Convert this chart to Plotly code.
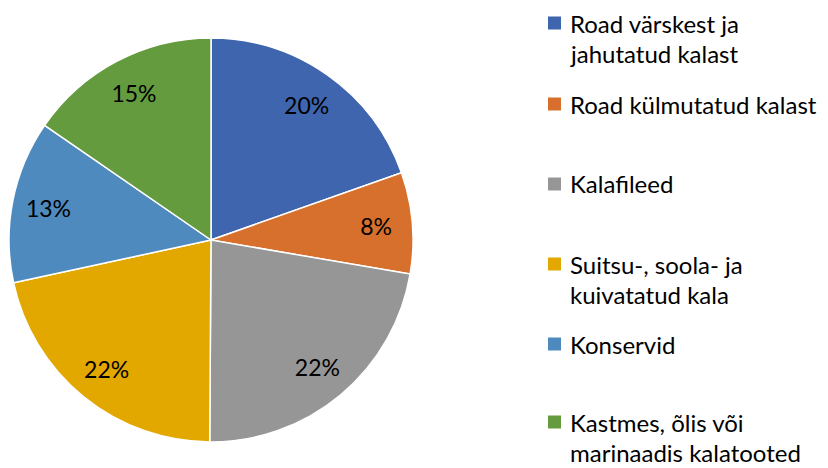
import plotly.graph_objects as go

categories = [
    "Road värskest ja\njahutatud kalast",
    "Road külmutatud kalast",
    "Kalafileed",
    "Suitsu-, soola- ja\nkuivatatud kala",
    "Konservid",
    "Kastmes, õlis või\nmarinaadis kalatooted",
]
values = [19.6, 8.1, 22.4, 21.5, 13.0, 15.4]
colors = ["#3E65AD", "#D6702C", "#969696", "#E3A800", "#4F8ABF", "#649B3E"]

W, H = 828, 468
FONT = "Lato"

domain = dict(x=[9/W, 413/W], y=[26/H, 430/H])

fig = go.Figure()
# filled slices
fig.add_trace(go.Pie(
    labels=[c.replace("\n", " ") for c in categories],
    values=values,
    sort=False,
    direction="clockwise",
    rotation=0,
    marker=dict(colors=colors, line=dict(color="white", width=1.5)),
    textinfo="none",
    domain=domain,
    hoverinfo="label+percent",
    showlegend=False,
))
# transparent ring carrying the percentage labels further out
fig.add_trace(go.Pie(
    labels=[c.replace("\n", " ") for c in categories],
    values=values,
    sort=False,
    direction="clockwise",
    rotation=0,
    hole=0.64,
    marker=dict(colors=["rgba(0,0,0,0)"] * len(values), line=dict(width=0)),
    texttemplate="%{percent:.0%}",
    textposition="inside",
    insidetextorientation="horizontal",
    textfont=dict(family=FONT, size=23, color="black"),
    domain=domain,
    hoverinfo="skip",
    showlegend=False,
))

# legend drawn as keys + text
entry_y = [23, 104, 184, 264, 344, 422]   # first-line centres (px from top)
line_gap = 30
annotations = []
shapes = []
for cat, col, yc in zip(categories, colors, entry_y):
    shapes.append(dict(
        type="rect", xref="paper", yref="paper",
        x0=548/W, x1=561/W, y0=1 - (yc + 6.5)/H, y1=1 - (yc - 6.5)/H,
        fillcolor=col, line=dict(width=0),
    ))
    for i, line in enumerate(cat.split("\n")):
        annotations.append(dict(
            text=line, xref="paper", yref="paper",
            x=568/W, y=1 - (yc + i*line_gap)/H,
            xanchor="left", yanchor="middle", showarrow=False,
            font=dict(family=FONT, size=24, color="black"),
        ))

fig.update_layout(
    width=W, height=H,
    margin=dict(l=0, r=0, t=0, b=0),
    paper_bgcolor="white",
    plot_bgcolor="white",
    showlegend=False,
    annotations=annotations,
    shapes=shapes,
)

fig.write_html("out.html", config={"displayModeBar": False},
               post_script="document.body.style.margin='0';")
